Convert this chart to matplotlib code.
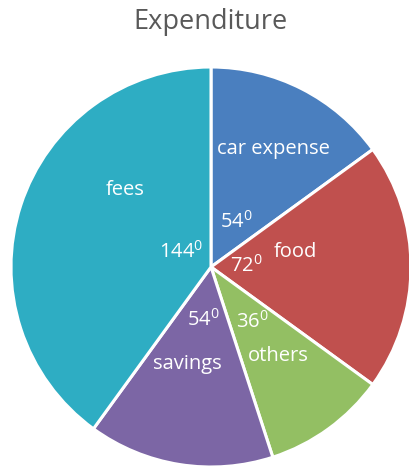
import matplotlib
matplotlib.use("Agg")
import matplotlib.pyplot as plt

# Expenditure shares, in degrees of the circle
categories = ["car expense", "food", "others", "savings", "fees"]
degrees = [54, 72, 36, 54, 144]

colors = ["#4a7fbf", "#c0504e", "#93bf63", "#7c66a5", "#2eadc3"]

plt.rcParams["font.family"] = ["Open Sans", "DejaVu Sans"]
plt.rcParams["mathtext.fontset"] = "custom"
plt.rcParams["mathtext.rm"] = "Open Sans"
plt.rcParams["mathtext.it"] = "Open Sans"

W, H = 409, 466
fig = plt.figure(figsize=(W / 100, H / 100), dpi=100)
ax = fig.add_axes([0, 0, 1, 1])

cx, cy, r = 211, H - 267, 200
ax.pie(degrees, colors=colors, startangle=90, counterclock=False,
       center=(cx, cy), radius=r, frame=True,
       wedgeprops=dict(edgecolor="white", linewidth=2.2))
ax.set_xlim(0, W)
ax.set_ylim(0, H)
ax.set_aspect("auto")
ax.axis("off")

# label positions in pixel coordinates (from top-left)
name_pos = [(273, 149), (295, 252), (278, 356), (187, 364), (125, 190)]
deg_pos = [(236, 222), (246, 266), (252, 322), (203, 320), (181, 252)]

for name, v, (nx, ny), (dx, dy) in zip(categories, degrees, name_pos, deg_pos):
    ax.text(nx, H - ny, name, color="white", fontsize=14.5, ha="center", va="center")
    ax.text(dx, H - dy, f"{v}$^{{0}}$", color="white", fontsize=14.5,
            ha="center", va="center")

ax.text(210, H - 22, "Expenditure", color="#595959", fontsize=19.5,
        ha="center", va="center")

fig.savefig("out.png", dpi=100)
